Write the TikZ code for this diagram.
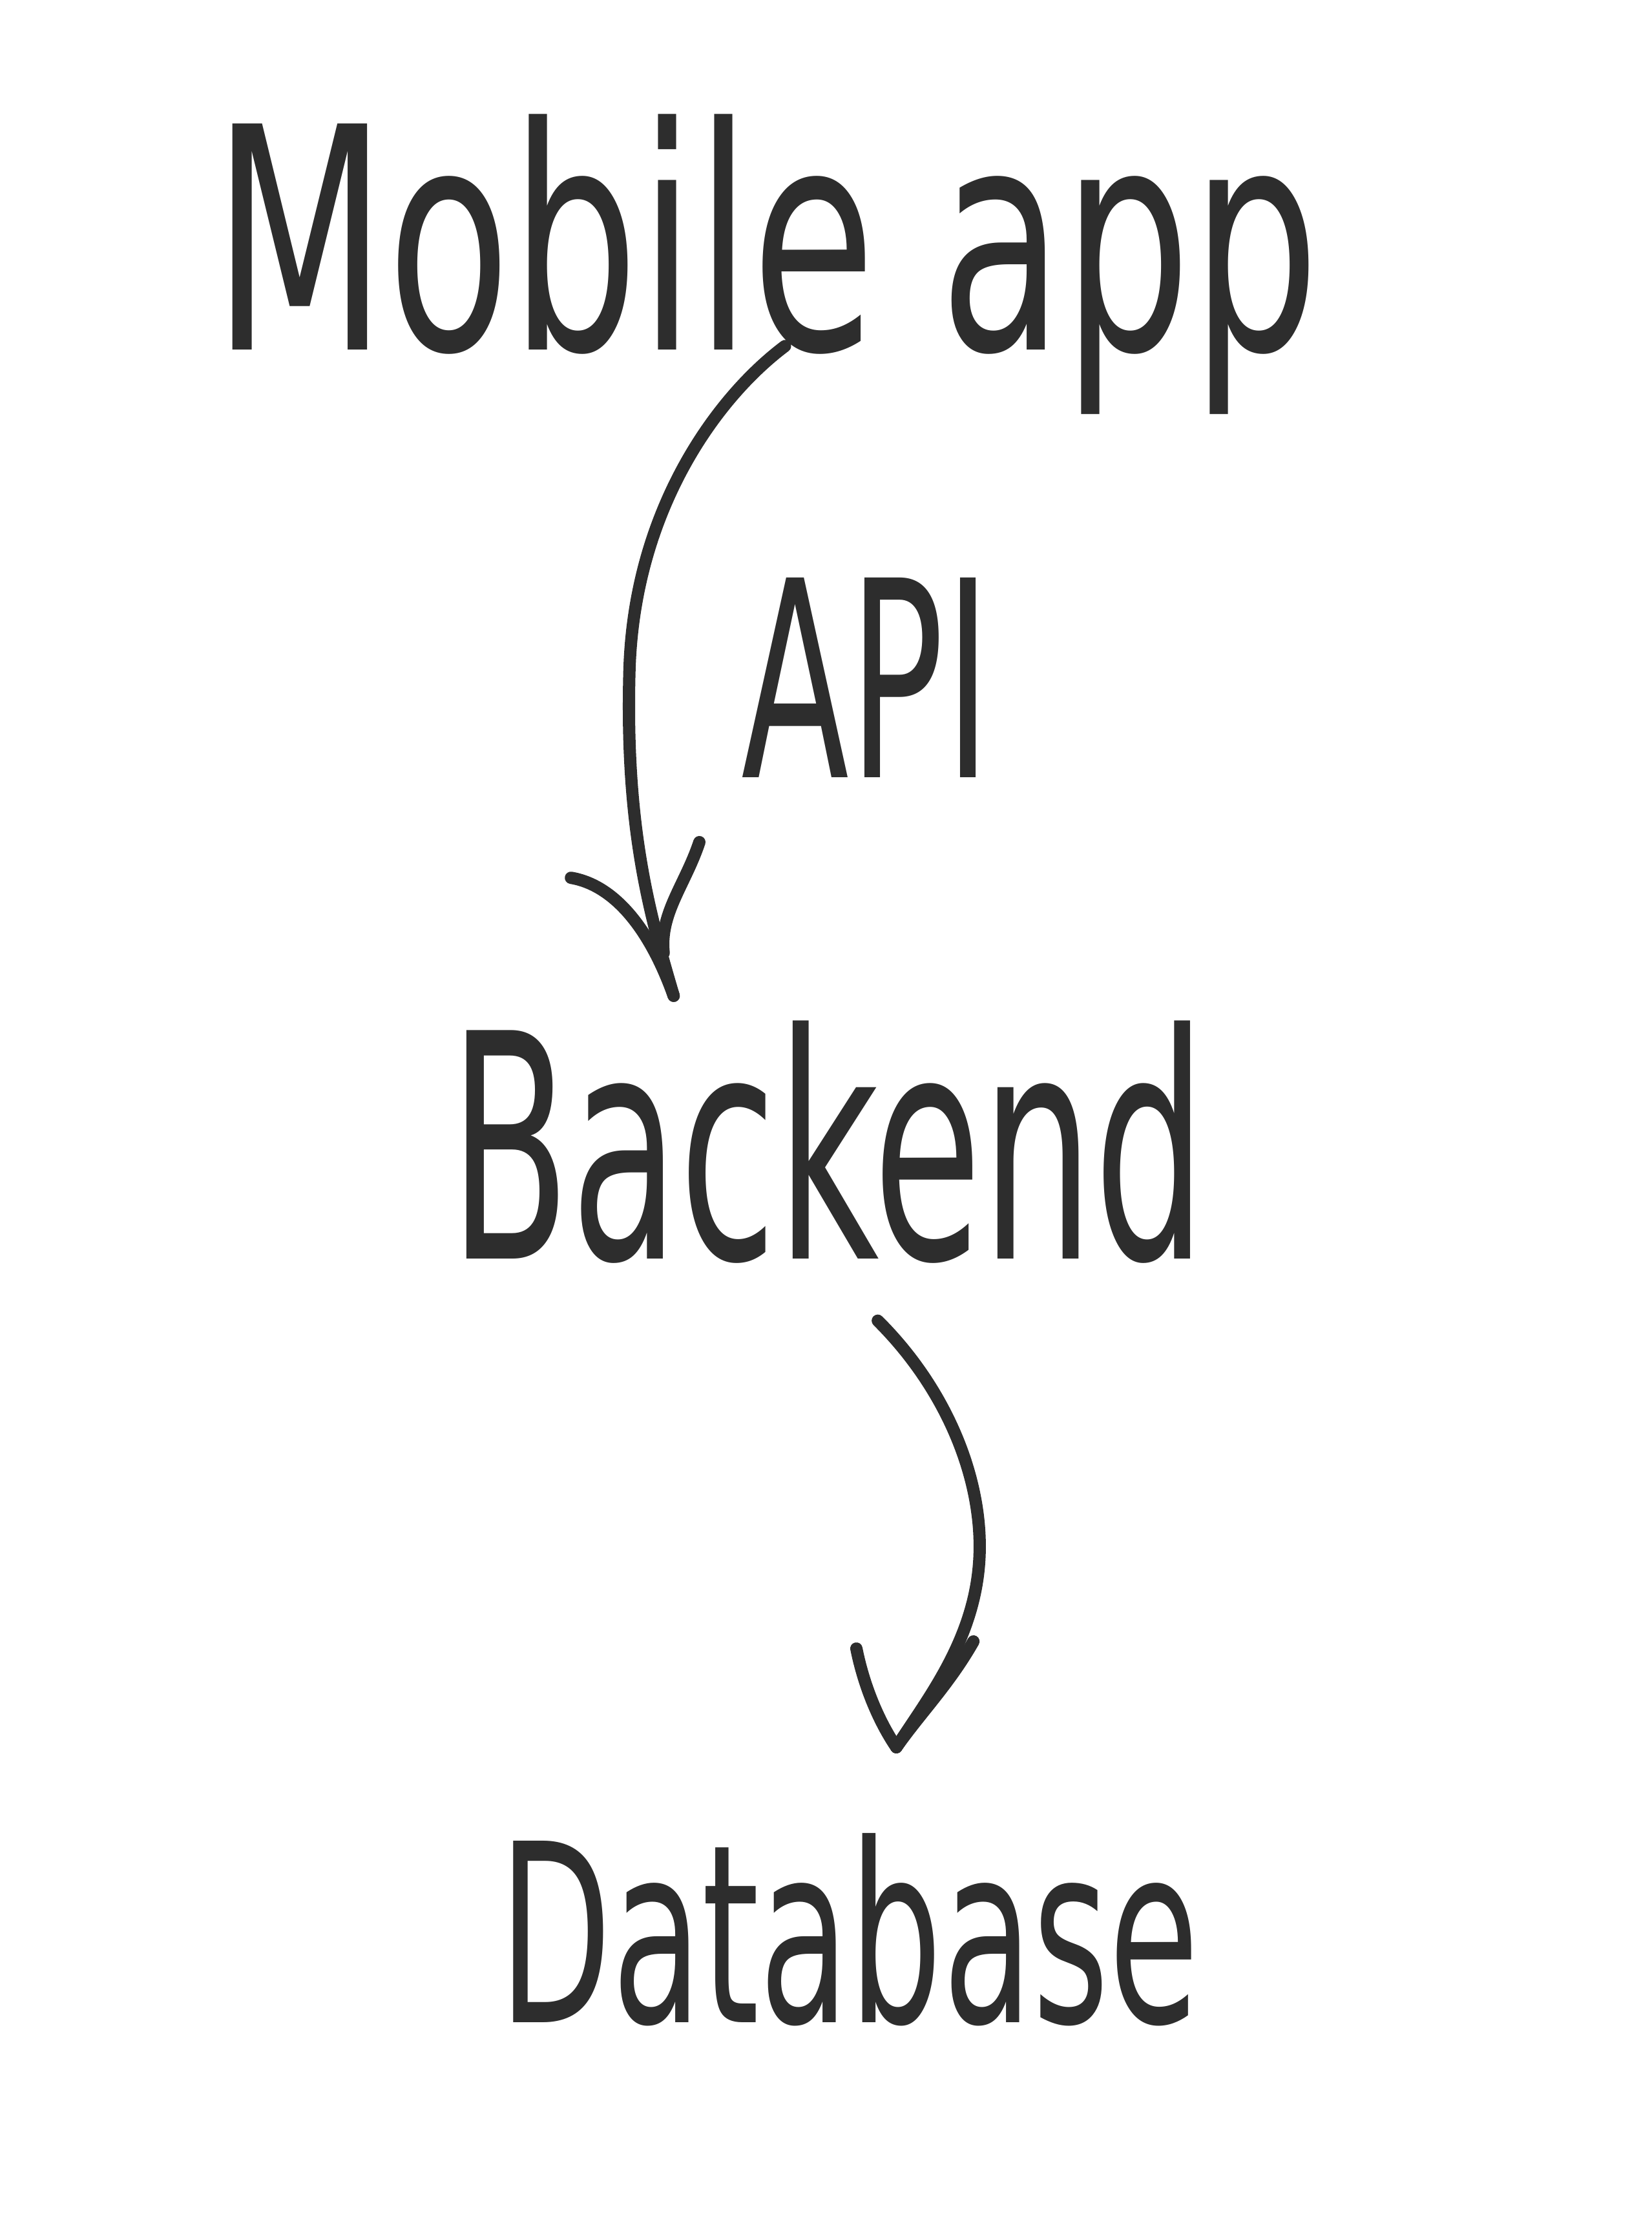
\documentclass[tikz,border=0pt]{standalone}
\usepackage{graphicx}
\usepackage{fontspec}
\setmainfont{DejaVu Sans}
\definecolor{ink}{RGB}{45,45,45}
\tikzset{
  lbl/.style={inner sep=0pt, text=ink},
  pen/.style={draw=ink, line width=0.19cm, line cap=round, line join=round},
}
\begin{document}
\begin{tikzpicture}[x=0.02208cm, y=-0.02208cm]
\useasboundingbox[fill=white] (0,0) rectangle (1157,1568);
\node[lbl] (mobile) at (537,185) {\resizebox*{17.11cm}{4.64cm}{Mobile app}};
\node[lbl] (api) at (607,475) {\resizebox*{3.86cm}{3.09cm}{API}};
\node[lbl] (backend) at (580,800) {\resizebox*{11.70cm}{3.75cm}{Backend}};
\node[lbl] (database) at (595,1352) {\resizebox*{10.82cm}{2.98cm}{Database}};
% arrow 1
\coordinate (a1s) at ([shift={(13,-48)}]mobile.south);
\coordinate (a1t) at ([shift={(-108,-17)}]backend.north);
\draw[pen] (a1s) .. controls (500,280) and (444,360) .. (441,470)
  .. controls (438,580) and (455,640) .. (a1t);
\draw[pen] (a1t) .. controls (455,650) and (430,620) .. (400,615);
\draw[pen] ([shift={(-7,-30)}]a1t) .. controls (462,640) and (480,620) .. (490,590);
% arrow 2
\coordinate (a2s) at ([shift={(35,40)}]backend.south);
\coordinate (a2t) at ([shift={(33,-60)}]database.north);
\draw[pen] (a2s) .. controls (665,975) and (690,1040) .. (686,1095)
  .. controls (682,1150) and (650,1190) .. (a2t);
\draw[pen] (a2t) .. controls (615,1205) and (605,1180) .. (600,1155);
\draw[pen] (a2t) .. controls (645,1200) and (665,1180) .. (682,1150);
\end{tikzpicture}
\end{document}
